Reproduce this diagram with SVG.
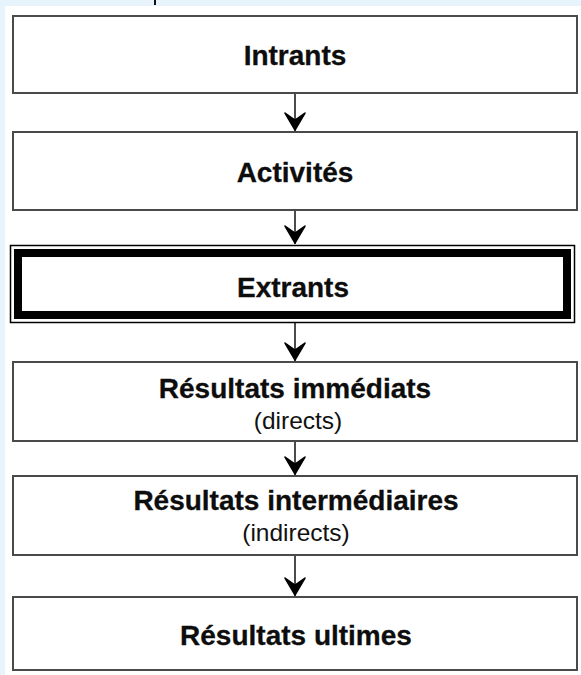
<svg xmlns="http://www.w3.org/2000/svg" width="581" height="675" viewBox="0 0 581 675">
<style>
.box{fill:#fff;stroke:#4a4a4a;stroke-width:2}
.b{font-family:"Liberation Sans",Arial,sans-serif;font-weight:bold;font-size:28px;fill:#0d0d0d;text-anchor:middle;stroke:#0d0d0d;stroke-width:0.3}
.r{font-family:"Liberation Sans",Arial,sans-serif;font-size:24.5px;fill:#111;text-anchor:middle}
.shaft{stroke:#111;stroke-width:1.5;fill:none}
</style>
<defs>
<marker id="ah" markerWidth="24" markerHeight="24" viewBox="0 0 24 24" refX="12" refY="22" orient="0" markerUnits="userSpaceOnUse">
<path d="M12 21 L2 4 L12 11 L22 4 Z" fill="#000" stroke="#000" stroke-width="1.5" stroke-linejoin="round"/>
</marker>
</defs>
<rect x="0" y="0" width="581" height="675" fill="#e8f4fc"/>
<rect x="5" y="6" width="576" height="669" fill="#fff"/>
<line x1="155" y1="0" x2="155" y2="5" stroke="#111" stroke-width="2"/>
<g id="connectors">
<line class="shaft" x1="295" y1="93" x2="295" y2="131" marker-end="url(#ah)"/>
<line class="shaft" x1="295" y1="210" x2="295" y2="244" marker-end="url(#ah)"/>
<line class="shaft" x1="295" y1="322" x2="295" y2="361" marker-end="url(#ah)"/>
<line class="shaft" x1="295" y1="441" x2="295" y2="475" marker-end="url(#ah)"/>
<line class="shaft" x1="295" y1="555" x2="295" y2="596" marker-end="url(#ah)"/>
</g>
<g id="intrants">
<rect class="box" x="13" y="16" width="564" height="77"/>
<text class="b" x="295" y="65">Intrants</text>
</g>
<g id="activites">
<rect class="box" x="13" y="132" width="564" height="78"/>
<text class="b" x="295" y="182">Activités</text>
</g>
<g id="extrants">
<rect x="10.5" y="245.5" width="564" height="77" fill="#fff" stroke="#000" stroke-width="1.5"/>
<rect x="18" y="253" width="549" height="62" fill="none" stroke="#000" stroke-width="8"/>
<text class="b" x="293" y="297">Extrants</text>
</g>
<g id="resultats-immediats">
<rect class="box" x="13" y="362" width="564" height="79"/>
<text class="b" x="295" y="398">Résultats immédiats</text>
<text class="r" x="298" y="429">(directs)</text>
</g>
<g id="resultats-intermediaires">
<rect class="box" x="13" y="476" width="564" height="79"/>
<text class="b" x="296" y="510">Résultats intermédiaires</text>
<text class="r" x="296" y="541">(indirects)</text>
</g>
<g id="resultats-ultimes">
<rect class="box" x="13" y="597" width="564" height="73"/>
<text class="b" x="296" y="645">Résultats ultimes</text>
</g>
</svg>
